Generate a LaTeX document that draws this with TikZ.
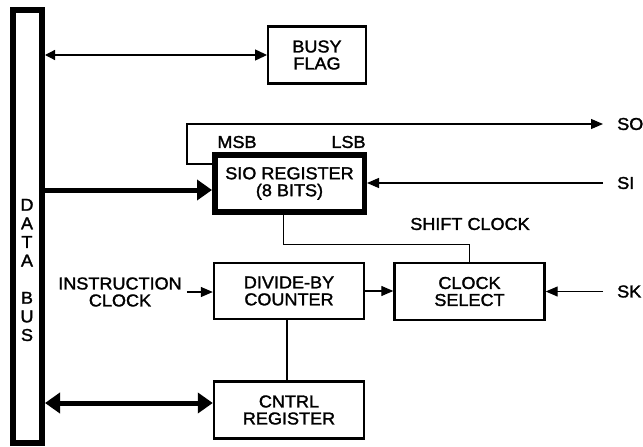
\documentclass[tikz,border=0pt]{standalone}
\usepackage{fontspec}
\newfontfamily\diagfont{Liberation Sans}[FakeStretch=1.05,FakeBold=1.6]
\usepackage{tikz}
\usetikzlibrary{arrows.meta, positioning, calc}

\begin{document}
\begin{tikzpicture}[x=1pt, y=-1pt,
    font={\diagfont\fontsize{17.2}{17}\selectfont},
    blk/.style={draw, line width=2.4pt, minimum width=150pt, minimum height=57pt, align=center, inner sep=0pt},
    thickblk/.style={blk, line width=5.5pt},
    sig/.style={line width=1.2pt},
    sigarrow/.style={sig, -{Triangle[length=12pt,width=10pt]}},
    busarrow/.style={line width=5pt, -{Triangle[length=15pt,width=20pt]}},
    pinlbl/.style={anchor=west, inner xsep=14pt, inner ysep=0pt}]
    \useasboundingbox (0,0) rectangle (643,447);
    % data bus
    \node[draw, line width=6pt, minimum width=29pt, minimum height=433pt, inner sep=0pt] (bus) at (27.5,226.5) {};
    \node[align=center, inner sep=0pt, font={\diagfont\fontsize{17.2}{18.6}\selectfont}] (busname) at (27,270) {D\\A\\T\\A\\[18.6pt]B\\U\\S};
    % blocks
    \node[blk, minimum width=97.5pt] (busy) at (317,55) {BUSY\\FLAG};
    \node[thickblk, minimum width=149.5pt] (sio) at (289.5,183.5) {SIO REGISTER\\(8 BITS)};
    \node[blk, minimum height=55.5pt] (counter) at (289,291) {DIVIDE-BY\\COUNTER};
    \node[blk, minimum height=56.5pt] (clksel) at (469.5,291.5) {CLOCK\\SELECT};
    \node[blk] (cntrl) at (289,410) {CNTRL\\REGISTER};
    % labels
    \node (msb) at (237,142) {MSB};
    \node (lsb) at (348.5,142) {LSB};
    \node (shiftclk) at (470,224) {SHIFT CLOCK};
    \node[pinlbl] (so) at (603,124) {SO};
    \node[pinlbl] (si) at (603,183) {SI};
    \node[pinlbl] (sk) at (603,291.5) {SK};
    \node[align=center, inner xsep=5pt] (instclk) at (120,292) {INSTRUCTION\\CLOCK};
    % bus connections
    \coordinate (sioin) at ($(sio.west)+(0,6.5)$);
    \coordinate (cntrlio) at ($(cntrl.west)+(0,-7)$);
    \coordinate (sotap) at ($(sio.west)+(0,-19.5)$);
    \draw[sig, {Triangle[length=10pt,width=10pt]}-{Triangle[length=12pt,width=11pt]}] (bus.east |- busy.west) -- (busy.west);
    \draw[busarrow] (bus.east |- sioin) -- (sioin);
    \draw[busarrow, {Triangle[length=15pt,width=20pt]}-{Triangle[length=15pt,width=20pt]}] (bus.east |- cntrlio) -- (cntrlio);
    % serial lines
    \draw[sigarrow] (sotap) -- ++(-25,0) |- (so.west);
    \draw[sigarrow] (si.west) -- (sio.east |- si.west);
    \draw[sigarrow] (sk.west) -- (clksel.east |- sk.west);
    \draw[sigarrow] (instclk.east) -- (counter.west |- instclk.east);
    \draw[sigarrow] (counter.east) -- (clksel.west |- counter.east);
    \draw[sig] ($(sio.south)+(-6,0)$) -- ++(0,30) -| (clksel.north);
    \draw[sig] ($(counter.south)+(-2,0)$) -- ($(cntrl.north)+(-2,0)$);
\end{tikzpicture}
\end{document}
